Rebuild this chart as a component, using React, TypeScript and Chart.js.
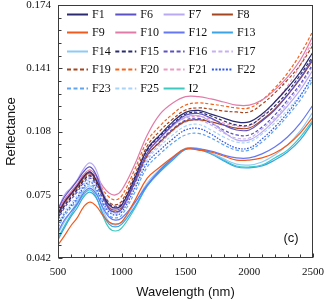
import React, { useEffect, useRef } from 'react';
import { Chart, registerables } from 'chart.js';
Chart.register(...registerables);

const wavelengths = [500, 550, 600, 650, 700, 750, 800, 850, 900, 950, 1000, 1100, 1200, 1300, 1400, 1500, 1600, 1700, 1800, 1900, 2000, 2100, 2200, 2300, 2400, 2500];

const F1 = [0.0650, 0.0712, 0.0754, 0.0796, 0.0843, 0.0869, 0.0827, 0.0754, 0.0697, 0.0681, 0.0697, 0.0832, 0.0989, 0.1062, 0.1130, 0.1180, 0.1190, 0.1171, 0.1150, 0.1130, 0.1130, 0.1171, 0.1234, 0.1307, 0.1390, 0.1495];
const F6 = [0.0676, 0.0738, 0.0780, 0.0822, 0.0869, 0.0895, 0.0853, 0.0754, 0.0676, 0.0660, 0.0676, 0.0817, 0.0968, 0.1046, 0.1114, 0.1165, 0.1174, 0.1150, 0.1114, 0.1088, 0.1088, 0.1135, 0.1192, 0.1270, 0.1359, 0.1463];
const F7 = [0.0670, 0.0749, 0.0785, 0.0827, 0.0884, 0.0916, 0.0879, 0.0770, 0.0691, 0.0676, 0.0691, 0.0822, 0.0968, 0.1046, 0.1109, 0.1155, 0.1163, 0.1130, 0.1077, 0.1036, 0.1036, 0.1077, 0.1140, 0.1213, 0.1297, 0.1401];
const F8 = [0.0644, 0.0707, 0.0749, 0.0790, 0.0837, 0.0864, 0.0822, 0.0749, 0.0686, 0.0670, 0.0686, 0.0811, 0.0957, 0.1025, 0.1088, 0.1134, 0.1142, 0.1130, 0.1114, 0.1098, 0.1098, 0.1140, 0.1197, 0.1270, 0.1354, 0.1453];
const F9 = [0.0488, 0.0535, 0.0587, 0.0629, 0.0686, 0.0712, 0.0691, 0.0644, 0.0608, 0.0597, 0.0608, 0.0717, 0.0837, 0.0895, 0.0947, 0.0989, 0.0983, 0.0973, 0.0952, 0.0931, 0.0931, 0.0942, 0.0968, 0.1010, 0.1072, 0.1156];
const F10 = [0.0660, 0.0723, 0.0764, 0.0806, 0.0853, 0.0879, 0.0848, 0.0796, 0.0759, 0.0749, 0.0775, 0.0905, 0.1062, 0.1171, 0.1229, 0.1262, 0.1262, 0.1250, 0.1234, 0.1218, 0.1218, 0.1244, 0.1297, 0.1364, 0.1453, 0.1578];
const F12 = [0.0556, 0.0618, 0.0660, 0.0702, 0.0759, 0.0785, 0.0754, 0.0686, 0.0634, 0.0618, 0.0629, 0.0707, 0.0801, 0.0879, 0.0942, 0.0989, 0.0989, 0.0978, 0.0957, 0.0942, 0.0942, 0.0963, 0.0999, 0.1051, 0.1124, 0.1218];
const F13 = [0.0514, 0.0577, 0.0634, 0.0681, 0.0738, 0.0764, 0.0733, 0.0655, 0.0597, 0.0582, 0.0597, 0.0686, 0.0796, 0.0869, 0.0931, 0.0986, 0.0986, 0.0963, 0.0926, 0.0895, 0.0890, 0.0900, 0.0931, 0.0973, 0.1036, 0.1130];
const F14 = [0.0545, 0.0608, 0.0660, 0.0712, 0.0770, 0.0796, 0.0764, 0.0676, 0.0608, 0.0592, 0.0608, 0.0702, 0.0811, 0.0884, 0.0942, 0.0992, 0.0992, 0.0968, 0.0937, 0.0910, 0.0905, 0.0921, 0.0957, 0.1010, 0.1083, 0.1182];
const F15 = [0.0629, 0.0691, 0.0733, 0.0775, 0.0822, 0.0848, 0.0811, 0.0749, 0.0702, 0.0686, 0.0702, 0.0837, 0.0983, 0.1057, 0.1119, 0.1170, 0.1180, 0.1161, 0.1135, 0.1114, 0.1114, 0.1156, 0.1213, 0.1286, 0.1375, 0.1474];
const F16 = [0.0618, 0.0681, 0.0723, 0.0764, 0.0811, 0.0837, 0.0801, 0.0733, 0.0676, 0.0660, 0.0676, 0.0806, 0.0952, 0.1030, 0.1093, 0.1139, 0.1148, 0.1124, 0.1088, 0.1062, 0.1062, 0.1103, 0.1166, 0.1244, 0.1328, 0.1432];
const F17 = [0.0660, 0.0723, 0.0764, 0.0806, 0.0853, 0.0879, 0.0843, 0.0744, 0.0670, 0.0655, 0.0670, 0.0801, 0.0942, 0.1015, 0.1083, 0.1129, 0.1138, 0.1114, 0.1072, 0.1046, 0.1046, 0.1093, 0.1150, 0.1229, 0.1317, 0.1422];
const F19 = [0.0634, 0.0697, 0.0738, 0.0780, 0.0827, 0.0853, 0.0817, 0.0759, 0.0712, 0.0697, 0.0717, 0.0853, 0.1004, 0.1083, 0.1145, 0.1192, 0.1203, 0.1197, 0.1187, 0.1182, 0.1182, 0.1223, 0.1281, 0.1349, 0.1427, 0.1531];
const F20 = [0.0650, 0.0712, 0.0754, 0.0796, 0.0843, 0.0869, 0.0837, 0.0780, 0.0738, 0.0723, 0.0744, 0.0879, 0.1030, 0.1109, 0.1171, 0.1218, 0.1229, 0.1223, 0.1213, 0.1203, 0.1203, 0.1244, 0.1307, 0.1385, 0.1484, 0.1604];
const F21 = [0.0639, 0.0702, 0.0744, 0.0785, 0.0832, 0.0858, 0.0822, 0.0759, 0.0707, 0.0691, 0.0707, 0.0832, 0.0973, 0.1051, 0.1114, 0.1150, 0.1159, 0.1145, 0.1124, 0.1109, 0.1109, 0.1161, 0.1234, 0.1317, 0.1427, 0.1557];
const F22 = [0.0587, 0.0650, 0.0691, 0.0733, 0.0790, 0.0817, 0.0780, 0.0712, 0.0660, 0.0644, 0.0660, 0.0780, 0.0916, 0.0983, 0.1041, 0.1088, 0.1096, 0.1067, 0.1025, 0.0994, 0.0994, 0.1041, 0.1103, 0.1177, 0.1265, 0.1375];
const F23 = [0.0577, 0.0639, 0.0681, 0.0723, 0.0780, 0.0806, 0.0770, 0.0702, 0.0644, 0.0629, 0.0644, 0.0759, 0.0895, 0.0963, 0.1020, 0.1062, 0.1070, 0.1046, 0.1010, 0.0983, 0.0983, 0.1025, 0.1088, 0.1161, 0.1244, 0.1349];
const F25 = [0.0597, 0.0660, 0.0702, 0.0744, 0.0801, 0.0827, 0.0790, 0.0723, 0.0665, 0.0650, 0.0665, 0.0790, 0.0931, 0.1004, 0.1062, 0.1108, 0.1117, 0.1088, 0.1051, 0.1025, 0.1025, 0.1067, 0.1124, 0.1192, 0.1270, 0.1359];
const I2 = [0.0524, 0.0587, 0.0644, 0.0697, 0.0749, 0.0775, 0.0738, 0.0644, 0.0577, 0.0561, 0.0577, 0.0676, 0.0796, 0.0874, 0.0937, 0.0991, 0.0991, 0.0968, 0.0931, 0.0900, 0.0895, 0.0905, 0.0942, 0.0983, 0.1051, 0.1140];

const yTickValues = [0.042, 0.075, 0.108, 0.141, 0.174];
const xTickValues = [500, 1000, 1500, 2000, 2500];

const SOLID: number[] = [];
const DASH = [3.2, 2];
const DOT = [1.6, 1.4];

const seriesDefs = [
  { label: 'F1', data: F1, color: '#2b2a6e', dash: SOLID },
  { label: 'F6', data: F6, color: '#5b50c4', dash: SOLID },
  { label: 'F7', data: F7, color: '#b9a9f2', dash: SOLID },
  { label: 'F8', data: F8, color: '#a3451f', dash: SOLID },
  { label: 'F9', data: F9, color: '#f25a1d', dash: SOLID },
  { label: 'F10', data: F10, color: '#e27aa8', dash: SOLID },
  { label: 'F12', data: F12, color: '#6577f2', dash: SOLID },
  { label: 'F13', data: F13, color: '#3ba3e8', dash: SOLID },
  { label: 'F14', data: F14, color: '#8fcaf5', dash: SOLID },
  { label: 'F15', data: F15, color: '#2b2a6e', dash: DASH },
  { label: 'F16', data: F16, color: '#5b50c4', dash: DASH },
  { label: 'F17', data: F17, color: '#c5b0f4', dash: DASH },
  { label: 'F19', data: F19, color: '#a3451f', dash: DASH },
  { label: 'F20', data: F20, color: '#f2621d', dash: DASH },
  { label: 'F21', data: F21, color: '#e89ac2', dash: DASH },
  { label: 'F22', data: F22, color: '#2f54ec', dash: DOT },
  { label: 'F23', data: F23, color: '#5fa5f2', dash: DASH },
  { label: 'F25', data: F25, color: '#a8d4f8', dash: DASH },
  { label: 'I2', data: I2, color: '#3cc9c0', dash: SOLID },
];

const framePlugin = {
  id: 'frameAndLegend',
  afterDraw(chart: any) {
    const { ctx, chartArea: a, scales } = chart;
    const xs = scales.x;
    const ys = scales.y;
    ctx.save();
    ctx.strokeStyle = '#3a3a3a';
    ctx.lineWidth = 1;
    ctx.setLineDash([]);
    const L = Math.round(a.left) + 0.5;
    const T = Math.round(a.top) + 0.5;
    const R = Math.round(a.right) - 0.5;
    const B = Math.round(a.bottom) - 0.5;
    ctx.strokeRect(L, T, R - L, B - T);
    ctx.beginPath();
    for (let v = xTickValues[0]; v <= xTickValues[xTickValues.length - 1] + 1; v += 100) {
      const px = Math.round(xs.getPixelForValue(v)) + 0.5;
      const len = Math.abs(v % 500) < 1 ? 4 : 3;
      ctx.moveTo(px, B);
      ctx.lineTo(px, B - len);
    }
    const ymin = yTickValues[0];
    const ystep = (yTickValues[1] - yTickValues[0]) / 5;
    for (let i = 0; i <= (yTickValues.length - 1) * 5; i++) {
      const v = ymin + i * ystep;
      const py = Math.round(ys.getPixelForValue(v)) + 0.5;
      const len = i % 5 === 0 ? 4 : 3;
      ctx.moveTo(L, py);
      ctx.lineTo(L + len, py);
    }
    ctx.stroke();

    const x0 = a.left + 9;
    const y0 = a.top + 9;
    const colW = 48.3;
    const rowH = 18.4;
    ctx.font = '12px "Liberation Serif", "Times New Roman", serif';
    ctx.textBaseline = 'middle';
    ctx.textAlign = 'left';
    seriesDefs.forEach((s, i) => {
      const col = i % 4;
      const row = Math.floor(i / 4);
      const lx = x0 + col * colW;
      const ly = Math.round(y0 + row * rowH) + 0.5;
      ctx.strokeStyle = s.color;
      ctx.lineWidth = 2;
      ctx.setLineDash(s.dash === SOLID ? [] : s.dash === DOT ? [2, 1.5] : [4, 2.5]);
      ctx.beginPath();
      ctx.moveTo(lx, ly);
      ctx.lineTo(lx + 21, ly);
      ctx.stroke();
      ctx.setLineDash([]);
      ctx.fillStyle = '#111';
      ctx.fillText(s.label, lx + 25, ly + 0.5);
    });

    ctx.font = '13px "Liberation Sans", Arial, sans-serif';
    ctx.textAlign = 'center';
    ctx.fillStyle = '#111';
    ctx.fillText('(c)', a.right - 22, a.bottom - 20);
    ctx.restore();
  },
};

export default function App() {
  const ref = useRef<HTMLCanvasElement | null>(null);
  useEffect(() => {
    if (!ref.current) return;
    const chart = new Chart(ref.current, {
      type: 'line',
      data: {
        datasets: seriesDefs.map((s) => ({
          label: s.label,
          data: wavelengths.map((w, i) => ({ x: w, y: s.data[i] })),
          borderColor: s.color,
          backgroundColor: s.color,
          borderWidth: 1.2,
          borderDash: s.dash,
          pointRadius: 0,
          fill: false,
          tension: 0.4,
        })),
      },
      options: {
        responsive: false,
        animation: false,
        devicePixelRatio: 1,
        layout: { padding: { left: 0, right: 14, top: 5, bottom: 0 } },
        plugins: { legend: { display: false }, tooltip: { enabled: false } },
        scales: {
          x: {
            type: 'linear',
            min: 500,
            max: 2500,
            afterBuildTicks: (s: any) => {
              s.ticks = xTickValues.map((v) => ({ value: v }));
            },
            afterFit: (s: any) => {
              s.height = 43;
              s.paddingLeft = 0;
              s.paddingRight = 0;
              s.paddingTop = 0;
              s.paddingBottom = 0;
            },
            grid: { display: false, drawTicks: false },
            border: { display: false },
            ticks: {
              padding: 8,
              maxRotation: 0,
              autoSkip: false,
              color: '#111',
              font: { family: '"Liberation Serif", "Times New Roman", serif', size: 11 },
              callback: (v: any) => String(v),
            },
            title: {
              display: true,
              text: 'Wavelength (nm)',
              color: '#111',
              font: { family: '"Liberation Sans", Arial, sans-serif', size: 13 },
              padding: { top: 0, bottom: 1 },
            },
          },
          y: {
            type: 'linear',
            min: 0.042,
            max: 0.174,
            afterBuildTicks: (s: any) => {
              s.ticks = yTickValues.map((v) => ({ value: v }));
            },
            afterFit: (s: any) => {
              s.width = 58;
              s.paddingLeft = 0;
              s.paddingRight = 0;
              s.paddingTop = 0;
              s.paddingBottom = 0;
            },
            grid: { display: false, drawTicks: false },
            border: { display: false },
            ticks: {
              padding: 7,
              autoSkip: false,
              color: '#111',
              font: { family: '"Liberation Serif", "Times New Roman", serif', size: 11 },
              callback: (v: any) => Number(v).toFixed(3),
            },
            title: {
              display: true,
              text: 'Reflectance',
              color: '#111',
              font: { family: '"Liberation Sans", Arial, sans-serif', size: 13 },
              padding: { top: 4, bottom: 0 },
            },
          },
        },
      },
      plugins: [framePlugin],
    });
    return () => chart.destroy();
  }, []);
  return (
    <div style={{ position: 'absolute', left: 0, top: 0, width: 327, height: 301, background: '#fff' }}>
      <canvas ref={ref} width={327} height={301} style={{ display: 'block' }} />
    </div>
  );
}
